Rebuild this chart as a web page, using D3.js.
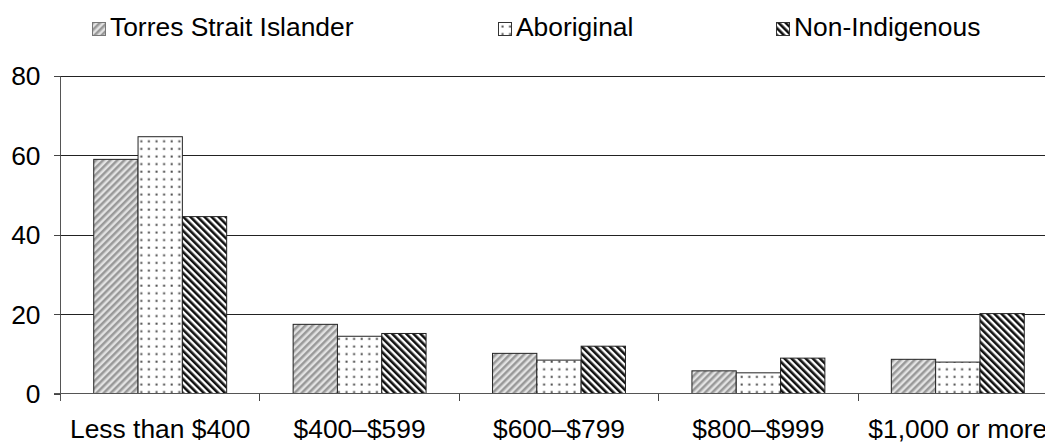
<!DOCTYPE html>
<html>
<head>
<meta charset="utf-8">
<script src="https://cdn.jsdelivr.net/npm/d3@7"></script>
<style>
  html, body { margin: 0; padding: 0; background: #fff; overflow: hidden; }
  svg { display: block; font-family: "Liberation Sans", Arial, sans-serif; }
</style>
</head>
<body>
<svg id="chart" width="1045" height="443"></svg>
<script>
const categories = ["Less than $400", "$400\u2013$599", "$600\u2013$799", "$800\u2013$999", "$1,000 or more"];
const seriesNames = ["Torres Strait Islander", "Aboriginal", "Non-Indigenous"];
const torresValues = [58.9, 17.4, 10.1, 5.7, 8.6];
const aboriginalValues = [64.6, 14.4, 8.4, 5.2, 7.9];
const nonIndigenousValues = [44.5, 15.1, 11.9, 8.9, 20.1];
const yTicks = [0, 20, 40, 60, 80];

const seriesValues = [torresValues, aboriginalValues, nonIndigenousValues];
const svg = d3.select("#chart");
const W = 1045;
const plotLeft = 60.5, plotTop = 75.5, plotBottom = 393.5;
const bandW = 199.4;
const FS = 26.4;

const defs = svg.append("defs");
// Torres: light grey diagonal stripes (/)
const p1 = defs.append("pattern").attr("id", "pTorres").attr("patternUnits", "userSpaceOnUse")
  .attr("width", 5).attr("height", 5).attr("patternTransform", "rotate(45)");
p1.append("rect").attr("width", 5).attr("height", 5).attr("fill", "#e2e2e2");
p1.append("rect").attr("width", 2.5).attr("height", 5).attr("fill", "#999");
// Aboriginal: sparse dots
const p2 = defs.append("pattern").attr("id", "pAbor").attr("patternUnits", "userSpaceOnUse")
  .attr("width", 7.6).attr("height", 7.6).attr("x", 1).attr("y", 1);
p2.append("rect").attr("width", 7.6).attr("height", 7.6).attr("fill", "#fff");
p2.append("rect").attr("x", 2.5).attr("y", 2.5).attr("width", 2).attr("height", 2).attr("fill", "#4a4a4a");
// Non-Indigenous: black diagonal stripes (\)
const p3 = defs.append("pattern").attr("id", "pNon").attr("patternUnits", "userSpaceOnUse")
  .attr("width", 5).attr("height", 5).attr("patternTransform", "rotate(-45)");
p3.append("rect").attr("width", 5).attr("height", 5).attr("fill", "#fff");
p3.append("rect").attr("width", 2.6).attr("height", 5).attr("fill", "#111");
const fills = ["url(#pTorres)", "url(#pAbor)", "url(#pNon)"];

const x = d3.scaleBand().domain(categories).range([plotLeft, plotLeft + bandW * categories.length]).padding(0);
const xInner = d3.scaleBand().domain(d3.range(seriesNames.length))
  .range([0, x.bandwidth()]).paddingInner(0).paddingOuter(0.75);
const y = d3.scaleLinear().domain([0, 80]).range([plotBottom, plotTop]);

// gridlines
svg.append("g").attr("transform", `translate(${plotLeft},0)`).attr("shape-rendering", "crispEdges")
  .call(d3.axisLeft(y).tickValues(yTicks.filter(t => t > 0)).tickSize(-(W - plotLeft)).tickFormat(""))
  .call(g => g.select(".domain").remove())
  .call(g => g.selectAll("line").attr("stroke", "#222").attr("stroke-width", 1));

// y axis
svg.append("g").attr("transform", `translate(${plotLeft},0)`)
  .call(d3.axisLeft(y).tickValues(yTicks).tickSize(7).tickPadding(13).tickSizeOuter(0))
  .call(g => g.select(".domain").attr("stroke", "#555").attr("shape-rendering", "crispEdges")
    .attr("d", `M0,${plotTop}V${plotBottom + 7}`))
  .call(g => g.selectAll("line").attr("stroke", "#444").attr("shape-rendering", "crispEdges"))
  .call(g => g.selectAll("text").attr("font-size", FS).attr("fill", "#000")
    .attr("font-family", "Liberation Sans, Arial, sans-serif").attr("dy", "0.35em"));

// bars
seriesValues.forEach((vals, si) => {
  svg.append("g").selectAll("rect").data(vals).join("rect")
    .attr("x", (d, i) => x(categories[i]) + xInner(si))
    .attr("y", d => y(d))
    .attr("width", xInner.bandwidth())
    .attr("height", d => y(0) - y(d))
    .attr("fill", fills[si])
    .attr("stroke", "#222").attr("stroke-width", 1);
});

// x axis
const xAxis = svg.append("g").attr("transform", `translate(0,${plotBottom})`)
  .call(d3.axisBottom(x).tickSize(0).tickPadding(25.5).tickSizeOuter(0))
  .call(g => g.select(".domain").attr("stroke", "#555").attr("shape-rendering", "crispEdges")
    .attr("d", `M${plotLeft - 7},0H${W}`))
  .call(g => g.selectAll("text").attr("font-size", FS).attr("fill", "#000")
    .attr("font-family", "Liberation Sans, Arial, sans-serif").attr("dy", "0.71em"));
xAxis.selectAll(".sep").data(categories.slice(1)).join("line").attr("class", "sep")
  .attr("x1", d => x(d)).attr("x2", d => x(d)).attr("y1", 0).attr("y2", 7)
  .attr("stroke", "#444").attr("shape-rendering", "crispEdges");

// legend
const legendX = [92, 498, 776];
const lg = svg.append("g");
seriesNames.forEach((name, i) => {
  const g = lg.append("g").attr("transform", `translate(${legendX[i]},22)`);
  g.append("rect").attr("x", 0.5).attr("y", 0.5).attr("width", 13).attr("height", 13)
    .attr("fill", fills[i]).attr("stroke", i === 0 ? "#777" : "#333");
  g.append("text").attr("x", 18).attr("y", 14).attr("font-size", FS).attr("fill", "#000").text(name);
});
</script>
</body>
</html>
